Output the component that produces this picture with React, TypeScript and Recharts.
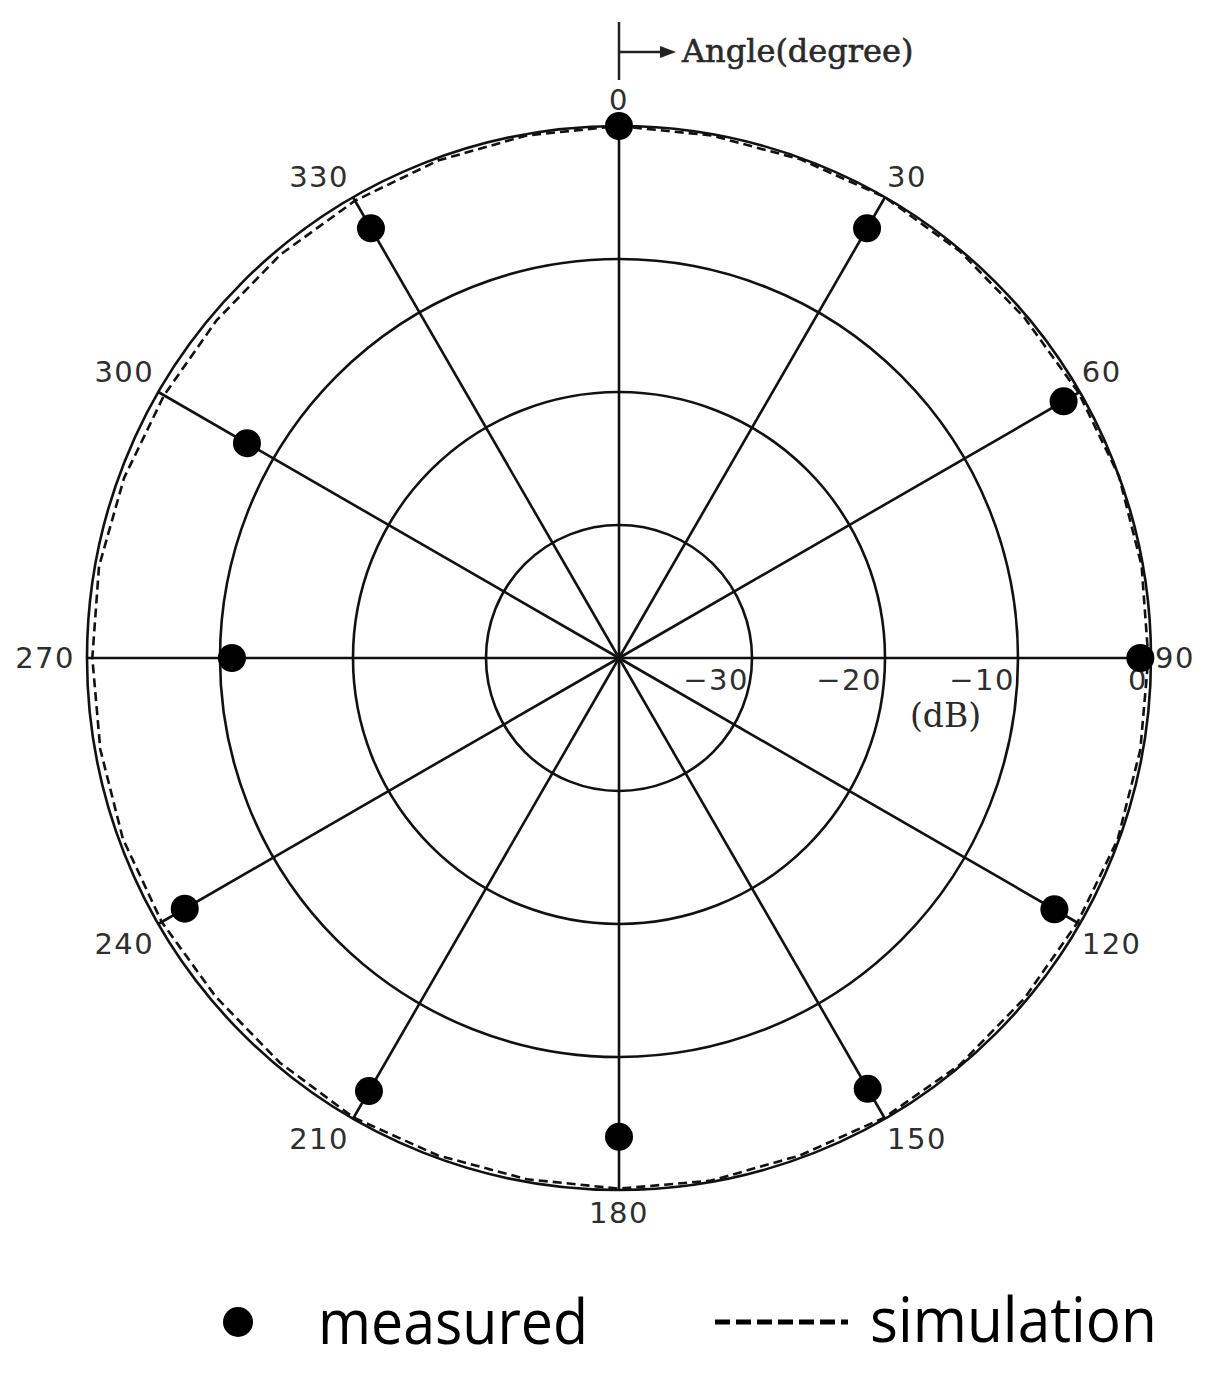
import React from "react";
import { RadarChart, Radar, PolarGrid, PolarAngleAxis, PolarRadiusAxis } from "recharts";

// angle categories every 10 degrees (clockwise from top)
const angles = [
  0, 10, 20, 30, 40, 50, 60, 70, 80, 90, 100, 110, 120, 130, 140, 150, 160, 170,
  180, 190, 200, 210, 220, 230, 240, 250, 260, 270, 280, 290, 300, 310, 320, 330, 340, 350,
];
// simulation (dB) - hugs the 0 dB circle
const simulation = [
  0, -0.1, -0.1, 0, -0.1, -0.2, -0.1, 0, -0.1, -0.2, -0.2, -0.1, -0.2, -0.2, -0.1, -0.1, -0.2, -0.1,
  -0.1, -0.2, -0.2, -0.1, -0.3, -0.4, -0.3, -0.3, -0.4, -0.4, -0.3, -0.4, -0.5, -0.5, -0.4, -0.3, -0.2, -0.1,
];
// measured (dB) every 30 degrees
const measuredAngles = [0, 30, 60, 90, 120, 150, 180, 210, 240, 270, 300, 330];
const measured = [0, -2.7, -1.4, -0.8, -2.2, -2.6, -4.0, -2.4, -2.3, -10.9, -7.7, -2.7];

const data = angles.map((a, i) => {
  const m = measuredAngles.indexOf(a);
  return { angle: a, simulation: simulation[i], measured: m >= 0 ? measured[m] : null };
});

const spokes = measuredAngles.map((a) => 90 - a);
const tickFont = "'DejaVu Sans', sans-serif";
const tickColor = "#2e2e2e";

const AngleTick = (props: any) => {
  const { x, y, payload } = props;
  const deg = Number(payload.value);
  if (deg % 30 !== 0) return <g />;
  const rad = (payload.coordinate * Math.PI) / 180;
  // back onto the circle
  const x0 = x - 8 * Math.cos(rad);
  const y0 = y + 8 * Math.sin(rad);
  let tx = x0, ty = y0, anchor = "middle";
  if (deg === 0) ty = y0 - 26;
  else if (deg === 180) ty = y0 + 23;
  else if (deg === 90) { tx = x0 + 4; anchor = "start"; }
  else if (deg === 270) { tx = x0 - 12; anchor = "end"; }
  else if (deg < 180) { tx = x0 + 2; anchor = "start"; ty = deg < 90 ? y0 - 20 : y0 + 20; }
  else { tx = x0 - 4; anchor = "end"; ty = deg > 270 ? y0 - 20 : y0 + 20; }
  return (
    <text x={tx} y={ty} textAnchor={anchor} dominantBaseline="central"
      fontFamily={tickFont} fontSize={29} letterSpacing={1.5} fill={tickColor}>
      {deg}
    </text>
  );
};

const RadiusTick = (props: any) => {
  const { x, y, payload } = props;
  if (payload.value === -40) return <g />;
  const label = payload.value < 0 ? `\u2212${Math.abs(payload.value)}` : `${payload.value}`;
  return (
    <text x={x - 3} y={y + 22} textAnchor="end" dominantBaseline="central"
      fontFamily={tickFont} fontSize={29} letterSpacing={1.5} fill={tickColor}>
      {label}
    </text>
  );
};

const MeasuredDot = (props: any) => {
  const { cx, cy, payload, index } = props;
  const v = payload?.payload ? payload.payload.measured : payload?.measured;
  if (v === null || v === undefined || !isFinite(cx) || !isFinite(cy)) return <g key={index} />;
  return <circle key={index} cx={cx} cy={cy} r={14} fill="#000" />;
};

export default function App() {
  return (
    <div style={{ position: "absolute", top: 0, left: 0, width: 1208, height: 1374, background: "#fff" }}>
      <RadarChart width={1208} height={1374} data={data} cx={619} cy={658} outerRadius={532}
        margin={{ top: 0, right: 0, bottom: 0, left: 0 }}>
        <PolarGrid gridType="circle" polarAngles={spokes} stroke="#111" strokeWidth={2.6} />
        <PolarAngleAxis dataKey="angle" type="category" axisLine={false} tickLine={false} tick={<AngleTick />} />
        <PolarRadiusAxis type="number" angle={0} domain={[-40, 0]} tickCount={5} allowDataOverflow
          axisLine={false} tick={<RadiusTick />} />
        <Radar dataKey="simulation" stroke="#111" strokeWidth={2.6} strokeDasharray="9 5" fill="none"
          dot={false} isAnimationActive={false} />
        <Radar dataKey="measured" stroke="none" fill="none" dot={<MeasuredDot />} isAnimationActive={false} />
      </RadarChart>
      <svg width={1208} height={1374} style={{ position: "absolute", top: 0, left: 0, pointerEvents: "none" }}>
        <line x1={619} y1={22} x2={619} y2={80} stroke="#222" strokeWidth={2.5} />
        <line x1={619} y1={52} x2={664} y2={52} stroke="#222" strokeWidth={2.5} />
        <path d="M660,46 L676,52 L660,58 Z" fill="#222" />
        <text x={682} y={62} fontFamily="'DejaVu Serif', serif" fontSize={32} fill="#2a2a2a"
          stroke="#2a2a2a" strokeWidth={0.6}>Angle(degree)</text>
        <text x={910} y={727} fontFamily="'DejaVu Serif', serif" fontSize={33} fill="#2a2a2a">(dB)</text>
        {/* legend */}
        <circle cx={238} cy={1322} r={15} fill="#000" />
        <text x={318} y={1344} fontFamily="'Open Sans', sans-serif" fontSize={62} fill="#000"
          textLength={270} lengthAdjust="spacingAndGlyphs">measured</text>
        <line x1={715} y1={1322} x2={848} y2={1322} stroke="#000" strokeWidth={5} strokeDasharray="15 6" />
        <text x={870} y={1342} fontFamily="'Open Sans', sans-serif" fontSize={62} fill="#000"
          textLength={287} lengthAdjust="spacingAndGlyphs">simulation</text>
      </svg>
    </div>
  );
}
